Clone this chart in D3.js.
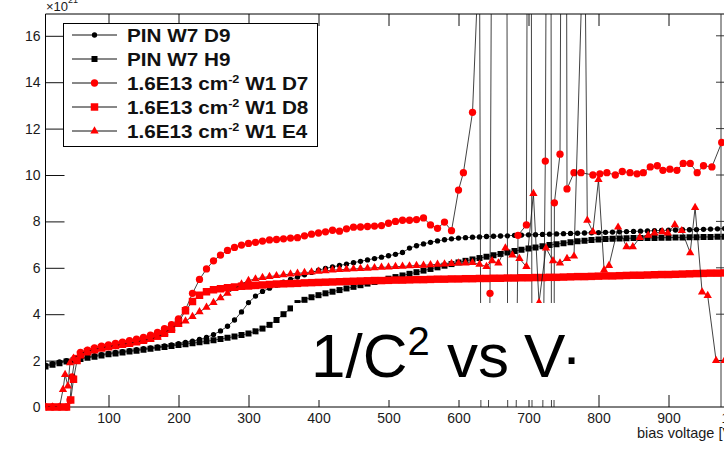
<!DOCTYPE html>
<meta charset="utf-8">
<style>
body { margin: 0; background: #fff; }
svg { display: block; font-family: "Liberation Sans", Arial, sans-serif; }
</style>
<svg width="724" height="451"></svg>
<script src="https://d3js.org/d3.v7.min.js"></script>
<script>
// ---- data (1/C^2 in units of 1e21, bias voltage in V) ----
var seriesNames = ["PIN W7 D9", "PIN W7 H9", "1.6E13 cm", "1.6E13 cm", "1.6E13 cm"];
var seriesTails = ["", "", " W1 D7", " W1 D8", " W1 E4"];

var voltsGrid = [10,20,30,40,50,60,70,80,90,100,110,120,130,140,150,160,170,180,190,200,
  210,220,230,240,250,260,270,280,290,300,310,320,330,340,350,360,370,380,390,400,
  410,420,430,440,450,460,470,480,490,500,510,520,530,540,550,560,570,580,590,600,
  610,620,630,640,650,660,670,680,690,700,710,720,730,740,750,760,770,780,790,800,
  810,820,830,840,850,860,870,880,890,900,910,920,930,940,950,960,970,980];

var d9 = [1.80,1.87,1.94,2.00,2.06,2.11,2.16,2.21,2.26,2.31,2.35,2.39,2.43,2.47,2.51,2.55,2.59,2.63,2.68,2.73,
  2.78,2.84,2.91,3.00,3.12,3.28,3.48,3.75,4.10,4.50,4.78,4.98,5.12,5.25,5.38,5.50,5.60,5.70,5.80,5.90,
  5.97,6.04,6.10,6.16,6.22,6.28,6.34,6.40,6.46,6.52,6.58,6.66,6.85,6.95,7.03,7.10,7.16,7.21,7.25,7.28,
  7.30,7.32,7.33,7.35,7.36,7.37,7.38,7.40,7.41,7.42,7.43,7.44,7.45,7.46,7.47,7.48,7.49,7.50,7.51,7.52,
  7.53,7.54,7.55,7.56,7.57,7.58,7.59,7.60,7.61,7.62,7.63,7.64,7.64,7.65,7.66,7.67,7.68,7.69];

var h9 = [1.75,1.82,1.89,1.96,2.02,2.07,2.12,2.17,2.22,2.27,2.31,2.35,2.39,2.43,2.47,2.51,2.55,2.59,2.63,2.67,
  2.71,2.75,2.79,2.83,2.88,2.93,2.98,3.04,3.10,3.17,3.26,3.38,3.54,3.75,4.00,4.25,4.48,4.62,4.73,4.82,
  4.90,4.97,5.04,5.11,5.18,5.25,5.32,5.39,5.46,5.53,5.60,5.67,5.74,5.81,5.88,5.95,6.02,6.09,6.16,6.23,
  6.30,6.36,6.42,6.48,6.54,6.60,6.66,6.72,6.78,6.83,6.88,6.93,6.98,7.02,7.06,7.10,7.14,7.17,7.20,7.22,
  7.24,7.25,7.26,7.27,7.28,7.28,7.29,7.29,7.30,7.30,7.31,7.31,7.32,7.32,7.33,7.33,7.34,7.34];

var d7Volts = [10,20,30,40,45,48,52,60,70,80,90,100,110,120,130,140,150,160,170,180,190,200,
  210,220,230,240,250,260,270,280,290,300,310,320,330,340,350,360,370,380,390,400,
  410,420,430,440,450,460,470,480,490,500,510,520,530,540,550,560,570,580,590,600,607,
  620,630,634,645,650,668,672,685,697,702,707,724,731,734,737,745,752,755,765,775,
  792,802,812,824,834,845,855,864,874,884,892,902,912,921,931,941,950,962,976];
var d7 = [0,0,0,0,0.3,1.3,2.1,2.35,2.45,2.55,2.62,2.68,2.74,2.8,2.86,2.92,3.0,3.1,3.22,3.38,3.55,3.8,
  4.2,4.9,5.5,5.95,6.3,6.55,6.75,6.88,6.98,7.05,7.1,7.15,7.2,7.22,7.25,7.28,7.3,7.38,7.45,7.5,
  7.55,7.62,7.58,7.68,7.75,7.76,7.78,7.8,7.82,7.92,8.0,8.05,8.05,8.08,8.15,7.85,7.7,7.97,7.6,9.35,10.1,
  12.7,20,-20,4.9,40,40,-30,7.4,7.85,60,-40,10.6,60,-40,8.8,10.9,60,9.4,10.1,10.1,
  10.0,10.05,10.1,10.0,10.15,10.1,10.05,10.1,10.35,10.4,10.2,10.25,10.2,10.5,10.5,10.1,10.4,10.35,11.4];

var d8Volts = [10,20,30,40,46,50,55,60,70,80,90,100,110,120,130,140,150,160,170,180,190,200,
  210,220,230,240,250,260,270,280,290,300,310,320,330,340,350,360,370,380,390,400,
  410,420,430,440,450,460,470,480,490,500,510,520,530,540,550,560,570,580,590,600,
  610,620,630,640,650,660,670,680,690,700,710,720,730,740,750,760,770,780,790,800,
  810,820,830,840,850,860,870,880,890,900,910,920,930,940,950,960,970,980];
var d8 = [0,0,0,0,0.3,1.2,2.0,2.25,2.38,2.47,2.54,2.60,2.65,2.70,2.75,2.81,2.88,2.96,3.06,3.18,3.35,3.65,
  4.15,4.55,4.82,4.97,5.05,5.10,5.14,5.17,5.20,5.22,5.24,5.26,5.28,5.30,5.31,5.32,5.33,5.35,5.36,5.37,
  5.38,5.39,5.40,5.41,5.42,5.43,5.44,5.45,5.45,5.46,5.47,5.47,5.48,5.49,5.49,5.50,5.51,5.51,5.52,5.52,
  5.53,5.53,5.54,5.54,5.55,5.55,5.56,5.56,5.57,5.57,5.58,5.58,5.59,5.59,5.60,5.61,5.62,5.62,5.63,5.64,
  5.65,5.65,5.66,5.67,5.68,5.68,5.69,5.70,5.71,5.71,5.72,5.73,5.74,5.75,5.76,5.77,5.77,5.78];

var e4Volts = [10,20,30,35,38,42,45,50,60,70,80,90,100,110,120,130,140,150,160,170,180,190,200,
  210,220,230,240,250,260,270,280,290,300,310,320,330,340,350,360,370,380,390,400,
  410,420,430,440,450,460,470,480,490,500,510,520,530,540,550,560,570,580,590,600,
  610,620,630,640,648,657,667,677,687,697,707,715,725,735,745,755,765,780,784,792,800,
  808,815,828,840,849,859,871,880,891,899,909,919,931,938,948,956,968,980];
var e4 = [0,0,0,0.75,1.4,0.9,1.9,2.1,2.3,2.4,2.48,2.55,2.6,2.65,2.7,2.75,2.8,2.87,2.93,3.0,3.2,3.4,3.55,
  3.7,3.9,4.1,4.3,4.5,4.7,4.9,5.1,5.3,5.45,5.52,5.58,5.62,5.66,5.7,5.73,5.76,5.79,5.82,5.85,
  5.87,5.9,5.92,5.93,5.95,5.97,5.98,6.0,6.02,6.03,6.05,6.06,6.08,6.1,6.11,6.13,6.15,6.16,6.18,6.2,
  6.2,6.22,6.15,6.05,6.3,6.2,6.85,6.55,6.4,6.05,9.2,4.5,6.85,6.3,6.2,6.4,6.5,22,8.05,7.55,9.8,
  5.9,6.1,7.75,6.9,6.9,7.3,7.4,7.5,7.55,7.5,7.85,7.6,6.65,8.6,4.95,4.8,2.0,2.0];

var xMajor = [100,200,300,400,500,600,700,800,900,1000];
var yMajor = [0,2,4,6,8,10,12,14,16];

// ---- frame ----
var svg = d3.select("svg"),
    width = +svg.attr("width"),
    height = +svg.attr("height");
var frameLeft = 45.5, frameTop = 14, frameBottom = 407;

var x = d3.scaleLinear().domain([0, 1000]).range([38.5, 738.5]);
var y = d3.scaleLinear().domain([0, 16.94]).range([frameBottom, frameTop]);

var defs = svg.append("defs");
defs.append("clipPath").attr("id", "clipFrame")
  .append("rect").attr("x", frameLeft).attr("y", frameTop).attr("width", 720).attr("height", frameBottom - frameTop);
defs.append("clipPath").attr("id", "clipMarks")
  .append("rect").attr("x", frameLeft).attr("y", frameTop).attr("width", 720).attr("height", frameBottom - frameTop + 6);

var minorX = d3.range(20, 1001, 20);
var minorY = d3.range(0, 17, 0.5);

// bottom axis, ticks pointing inward
var gx = svg.append("g").attr("transform", "translate(0," + frameBottom + ")");
gx.call(d3.axisBottom(x).tickValues(minorX).tickSize(-6).tickSizeOuter(0).tickFormat(""));
gx.call(d3.axisBottom(x).tickValues(xMajor).tickSize(-12).tickSizeOuter(0).tickPadding(6));
gx.selectAll(".domain").remove();
gx.selectAll("text").attr("font-size", 14).attr("fill", "#1a1a1a").attr("font-family", "Liberation Sans, Arial, sans-serif");

// top axis, no labels
var gt = svg.append("g").attr("transform", "translate(0," + frameTop + ")");
gt.call(d3.axisTop(x).tickValues(minorX).tickSize(-6).tickSizeOuter(0).tickFormat(""));
gt.call(d3.axisTop(x).tickValues(xMajor).tickSize(-12).tickSizeOuter(0).tickFormat(""));
gt.selectAll(".domain").remove();

// left axis
var gy = svg.append("g").attr("transform", "translate(" + frameLeft + ",0)");
gy.call(d3.axisLeft(y).tickValues(minorY).tickSize(-9).tickSizeOuter(0).tickFormat(""));
gy.call(d3.axisLeft(y).tickValues(yMajor).tickSize(-19).tickSizeOuter(0).tickPadding(5));
gy.selectAll(".domain").remove();
gy.selectAll("text").attr("font-size", 14).attr("fill", "#1a1a1a").attr("font-family", "Liberation Sans, Arial, sans-serif");

svg.selectAll(".tick line").attr("stroke", "#111");

// frame lines
svg.append("line").attr("x1", frameLeft).attr("x2", frameLeft).attr("y1", frameTop).attr("y2", frameBottom).attr("stroke", "#000");
svg.append("line").attr("x1", frameLeft).attr("x2", width).attr("y1", frameBottom).attr("y2", frameBottom).attr("stroke", "#000");
svg.append("line").attr("x1", frameLeft).attr("x2", width).attr("y1", frameTop).attr("y2", frameTop).attr("stroke", "#000");

// edge of the neighbouring frame on the right
svg.append("line").attr("x1", 721).attr("x2", 721).attr("y1", frameTop).attr("y2", frameBottom).attr("stroke", "#222").attr("stroke-width", 0.9);
svg.append("g").selectAll("line").data(yMajor.slice(1)).enter().append("line")
  .attr("x1", 716).attr("x2", 724).attr("y1", d => y(d)).attr("y2", d => y(d))
  .attr("stroke", "#222").attr("stroke-width", 0.9);

// exponent label (its top is cut by the picture edge)
var expo = svg.append("text").attr("x", 46).attr("y", 11).attr("font-size", 13).attr("fill", "#1a1a1a");
expo.append("tspan").text("\u00d710");
expo.append("tspan").attr("font-size", 9).attr("dy", -8).text("21");

// axis title (cut by the picture edge)
svg.append("text").attr("x", 637).attr("y", 438).attr("font-size", 14.5).attr("fill", "#1a1a1a").text("bias voltage [V]");

// ---- series ----
var plot = svg.append("g");
var series = [
  {v: voltsGrid, d: d9, sym: d3.symbolCircle, size: 22, color: "#000"},
  {v: voltsGrid, d: h9, sym: d3.symbolSquare, size: 36, color: "#000"},
  {v: d7Volts, d: d7, sym: d3.symbolCircle, size: 42, color: "#ff0000"},
  {v: d8Volts, d: d8, sym: d3.symbolSquare, size: 56, color: "#ff0000"},
  {v: e4Volts, d: e4, sym: d3.symbolTriangle, size: 30, color: "#ff0000"}
];

series.forEach(function(s) {
  var pts = s.v.map((v, i) => [x(v), y(s.d[i])]);
  plot.append("path")
      .attr("d", d3.line()(pts))
      .attr("fill", "none")
      .attr("stroke", "#111")
      .attr("stroke-width", 0.8)
      .attr("clip-path", "url(#clipFrame)");
  plot.append("g")
      .attr("clip-path", "url(#clipMarks)")
    .selectAll("path")
    .data(pts)
    .enter()
    .append("path")
      .attr("transform", d => "translate(" + d[0] + "," + d[1] + ")")
      .attr("d", d3.symbol().type(s.sym).size(s.size))
      .attr("fill", s.color);
});

// ---- legend ----
var lg = svg.append("g");
lg.append("rect").attr("x", 63.5).attr("y", 23.5).attr("width", 254).attr("height", 123)
  .attr("fill", "#fff").attr("stroke", "#000");
series.forEach(function(s, i) {
  var cy = 35 + i * 24;
  lg.append("line").attr("x1", 72).attr("x2", 117).attr("y1", cy).attr("y2", cy).attr("stroke", "#111").attr("stroke-width", 1);
  lg.append("path").attr("transform", "translate(94.5," + cy + ")")
    .attr("d", d3.symbol().type(s.sym).size(s.size)).attr("fill", s.color);
  var t = lg.append("text")
      .attr("transform", "translate(127," + (cy + 6.5) + ") scale(1.15,1)")
      .attr("font-size", 18).attr("font-weight", "bold").attr("fill", "#111");
  t.append("tspan").text(seriesNames[i]);
  if (seriesTails[i]) {
    t.append("tspan").attr("font-size", 11).attr("dy", -7).text("-2");
    t.append("tspan").attr("dy", 7).text(seriesTails[i]);
  }
});

// ---- overlaid caption ----
svg.append("rect").attr("x", 293).attr("y", 303).attr("width", 297).attr("height", 97).attr("fill", "#fff");
var cap = svg.append("text").attr("x", 311).attr("y", 377).attr("font-size", 62).attr("fill", "#000");
cap.append("tspan").text("1/C");
cap.append("tspan").attr("font-size", 40).attr("dy", -22).text("2");
cap.append("tspan").attr("dy", 22).text(" vs");
cap.append("tspan").attr("dx", 15).text("V");
cap.append("tspan").attr("dx", -4).text("\u00b7");
</script>
